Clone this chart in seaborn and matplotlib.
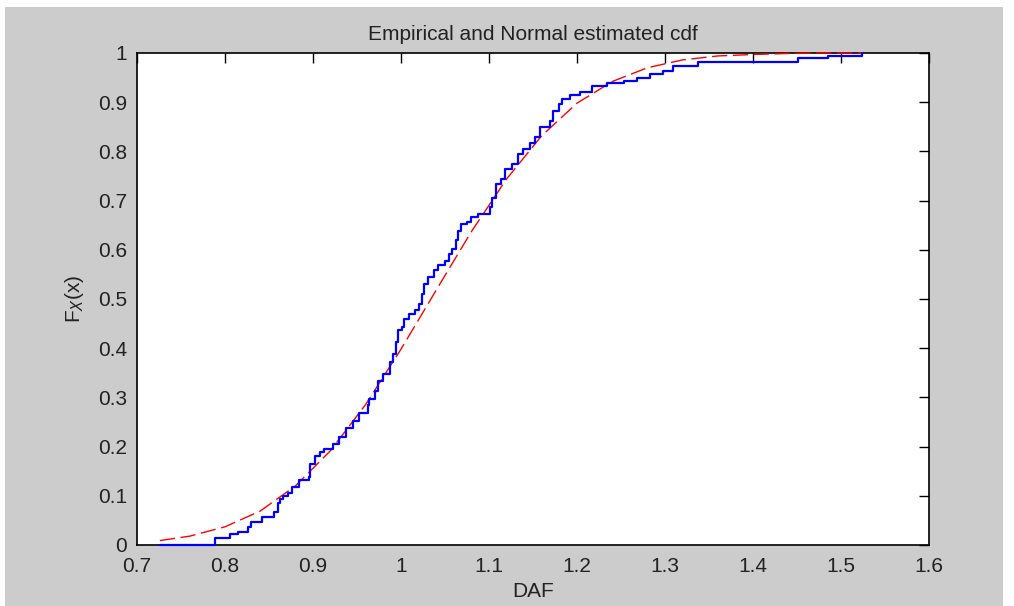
import numpy as np
import pandas as pd
import matplotlib
matplotlib.use('Agg')
import matplotlib.pyplot as plt
import seaborn as sns
from matplotlib.patches import Rectangle

# empirical cdf: step start positions (DAF) and cdf level after each step
emp_x = [0.726, 0.789, 0.806, 0.815, 0.826, 0.830, 0.842, 0.856, 0.860, 0.862,
         0.866, 0.872, 0.876, 0.884, 0.895, 0.897, 0.902, 0.908, 0.913, 0.923,
         0.930, 0.938, 0.946, 0.952, 0.962, 0.964, 0.971, 0.974, 0.980, 0.987,
         0.991, 0.994, 0.997, 1.001, 1.003, 1.009, 1.016, 1.021, 1.024, 1.026,
         1.031, 1.037, 1.042, 1.050, 1.054, 1.058, 1.062, 1.065, 1.068, 1.075,
         1.080, 1.088, 1.101, 1.103, 1.108, 1.114, 1.118, 1.126, 1.133, 1.139,
         1.147, 1.152, 1.158, 1.169, 1.173, 1.179, 1.183, 1.192, 1.203, 1.217,
         1.234, 1.253, 1.268, 1.283, 1.298, 1.309, 1.338, 1.451, 1.485, 1.524]
emp_f = [0.000, 0.015, 0.022, 0.027, 0.037, 0.047, 0.056, 0.068, 0.085, 0.093,
         0.100, 0.105, 0.118, 0.132, 0.139, 0.165, 0.180, 0.189, 0.196, 0.205,
         0.220, 0.237, 0.252, 0.268, 0.285, 0.297, 0.312, 0.334, 0.348, 0.372,
         0.389, 0.412, 0.436, 0.443, 0.460, 0.470, 0.477, 0.490, 0.510, 0.531,
         0.544, 0.558, 0.570, 0.578, 0.592, 0.602, 0.619, 0.639, 0.652, 0.657,
         0.666, 0.673, 0.686, 0.706, 0.734, 0.744, 0.764, 0.774, 0.794, 0.805,
         0.818, 0.830, 0.850, 0.862, 0.882, 0.896, 0.906, 0.915, 0.921, 0.933,
         0.940, 0.943, 0.950, 0.957, 0.963, 0.974, 0.982, 0.989, 0.994, 1.000]

# fitted normal cdf
norm_x = [0.726, 0.76, 0.80, 0.84, 0.88, 0.92, 0.96, 1.00, 1.04, 1.08,
          1.12, 1.16, 1.20, 1.24, 1.28, 1.32, 1.36, 1.40, 1.44, 1.48, 1.524]
norm_f = [0.009, 0.018, 0.037, 0.069, 0.120, 0.192, 0.286, 0.398, 0.518, 0.637,
          0.744, 0.832, 0.898, 0.942, 0.970, 0.986, 0.994, 0.997, 0.999, 1.000, 1.000]

x_ticks = [0.7, 0.8, 0.9, 1.0, 1.1, 1.2, 1.3, 1.4, 1.5, 1.6]
x_labels = ['0.7', '0.8', '0.9', '1', '1.1', '1.2', '1.3', '1.4', '1.5', '1.6']
y_ticks = [0, 0.1, 0.2, 0.3, 0.4, 0.5, 0.6, 0.7, 0.8, 0.9, 1]
y_labels = ['0', '0.1', '0.2', '0.3', '0.4', '0.5', '0.6', '0.7', '0.8', '0.9', '1']

emp = pd.DataFrame({'DAF': emp_x, 'F': emp_f})
nrm = pd.DataFrame({'DAF': norm_x, 'F': norm_f})

sns.set_style('white')
plt.rcParams['font.family'] = ['Liberation Sans', 'DejaVu Sans']

fig = plt.figure(figsize=(10.14, 6.06), dpi=100)
fig.patch.set_facecolor('white')
# grey matlab window area
fig.patches.append(Rectangle((5 / 1014, 0), (1003 - 5) / 1014, 1 - 7 / 606,
                             transform=fig.transFigure, facecolor='#cccccc',
                             edgecolor='none', zorder=-10))

ax = fig.add_axes([137 / 1014, 1 - 545 / 606, (929 - 137) / 1014, (545 - 53) / 606])
ax.set_facecolor('white')

sns.lineplot(data=nrm, x='DAF', y='F', ax=ax, color='#ff0000', linewidth=1.0,
             estimator=None, sort=False, zorder=3)
ax.lines[-1].set_dashes([11, 4])
ax.lines[-1].set_clip_on(False)
sns.lineplot(data=emp, x='DAF', y='F', ax=ax, color='#0000ff', linewidth=1.6,
             estimator=None, sort=False, drawstyle='steps-post', zorder=4)
ax.lines[-1].set_clip_on(False)

ax.set_xlim(0.7, 1.6)
ax.set_ylim(0, 1)
ax.set_xticks(x_ticks)
ax.set_xticklabels(x_labels)
ax.set_yticks(y_ticks)
ax.set_yticklabels(y_labels)
ax.tick_params(direction='in', length=7, width=1, color='black', labelsize=15,
               top=True, right=True, labelcolor='#222222')
ax.tick_params(axis='x', pad=9)
ax.tick_params(axis='y', pad=7)
for s in ax.spines.values():
    s.set_color('black')
    s.set_linewidth(1.2)

ax.set_title('Empirical and Normal estimated cdf', fontsize=15, color='#222222', pad=9)
ax.set_xlabel('DAF', fontsize=15, color='#222222', labelpad=4)
ax.set_ylabel('F$_X$(x)', fontsize=15, color='#222222', labelpad=9)

fig.savefig('out.png', dpi=100)
